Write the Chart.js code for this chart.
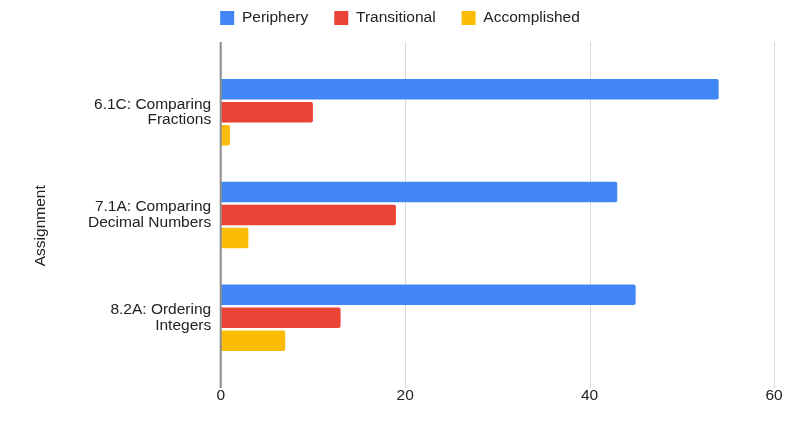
<!DOCTYPE html>
<html>
<head>
<meta charset="utf-8">
<script src="https://cdn.jsdelivr.net/npm/chart.js@4"></script>
<style>
  body { margin: 0; background: #fff; }
</style>
</head>
<body>
<canvas id="myChart" width="788" height="433"></canvas>
<script>
// datos
const assignments = [
  ['6.1C: Comparing', 'Fractions'],
  ['7.1A: Comparing', 'Decimal Numbers'],
  ['8.2A: Ordering', 'Integers']
];
const periphery = [54, 43, 45];
const transitional = [10, 19, 13];
const accomplished = [1, 3, 7];
const xTicks = [0, 20, 40, 60];

const fontFamily = '"Liberation Sans", Arial, sans-serif';

// lineas verticales que sobresalen del area del grafico
const gridPlugin = {
  id: 'extGrid',
  beforeDatasetsDraw(chart) {
    const {ctx, chartArea, scales} = chart;
    ctx.save();
    ctx.strokeStyle = '#d9d9d9';
    ctx.lineWidth = 1;
    xTicks.forEach(v => {
      if (v === 0) return;
      const x = Math.round(scales.x.getPixelForValue(v)) + 0.5;
      ctx.beginPath();
      ctx.moveTo(x, chartArea.top - 19);
      ctx.lineTo(x, chartArea.bottom + 19);
      ctx.stroke();
    });
    ctx.restore();
  },
  afterDatasetsDraw(chart) {
    const {ctx, chartArea, scales} = chart;
    const x = scales.x.getPixelForValue(0);
    ctx.save();
    ctx.strokeStyle = '#8a8a8a';
    ctx.lineWidth = 2;
    ctx.beginPath();
    ctx.moveTo(x, chartArea.top - 19);
    ctx.lineTo(x, chartArea.bottom + 19);
    ctx.stroke();
    ctx.restore();
  }
};

const ctx = document.getElementById('myChart');
new Chart(ctx, {
  type: 'bar',
  data: {
    labels: assignments,
    datasets: [
      { label: 'Periphery', data: periphery, backgroundColor: '#4285F4' },
      { label: 'Transitional', data: transitional, backgroundColor: '#EA4335' },
      { label: 'Accomplished', data: accomplished, backgroundColor: '#FBBC04' }
    ]
  },
  options: {
    indexAxis: 'y',
    responsive: false,
    animation: false,
    devicePixelRatio: 1,
    categoryPercentage: 0.672,
    barPercentage: 0.89,
    borderRadius: 2,
    layout: { padding: { top: -15.75, left: 26, right: 14, bottom: 0 } },
    font: { family: fontFamily, size: 15.5 },
    color: '#222',
    scales: {
      x: {
        min: 0,
        max: 60,
        afterFit: s => { s.height = 64; },
        afterBuildTicks: s => { s.ticks = xTicks.map(v => ({ value: v })); },
        grid: { display: true, drawOnChartArea: false, drawTicks: true, tickLength: 17.7, tickColor: 'transparent' },
        border: { display: false },
        ticks: { padding: 0, color: '#222', font: { family: fontFamily, size: 15.5 } }
      },
      xTop: {
        type: 'linear',
        position: 'top',
        afterFit: s => { s.height = 25.25; },
        grid: { display: false },
        border: { display: false },
        ticks: { display: false }
      },
      y: {
        afterFit: s => { s.width = 194.7; },
        grid: { display: false },
        border: { display: false },
        ticks: { padding: 1.5, color: '#222', font: { family: fontFamily, size: 15.5, lineHeight: '15.7px' } },
        title: {
          display: true,
          text: 'Assignment     ',
          color: '#222',
          padding: { top: 5.7, bottom: 0 },
          font: { family: fontFamily, size: 15.5 }
        }
      }
    },
    plugins: {
      legend: {
        position: 'top',
        labels: {
          boxWidth: 14,
          boxHeight: 14,
          padding: 26,
          color: '#222',
          font: { family: fontFamily, size: 15.5 }
        }
      },
      tooltip: { enabled: false }
    }
  },
  plugins: [gridPlugin]
});
</script>
</body>
</html>
